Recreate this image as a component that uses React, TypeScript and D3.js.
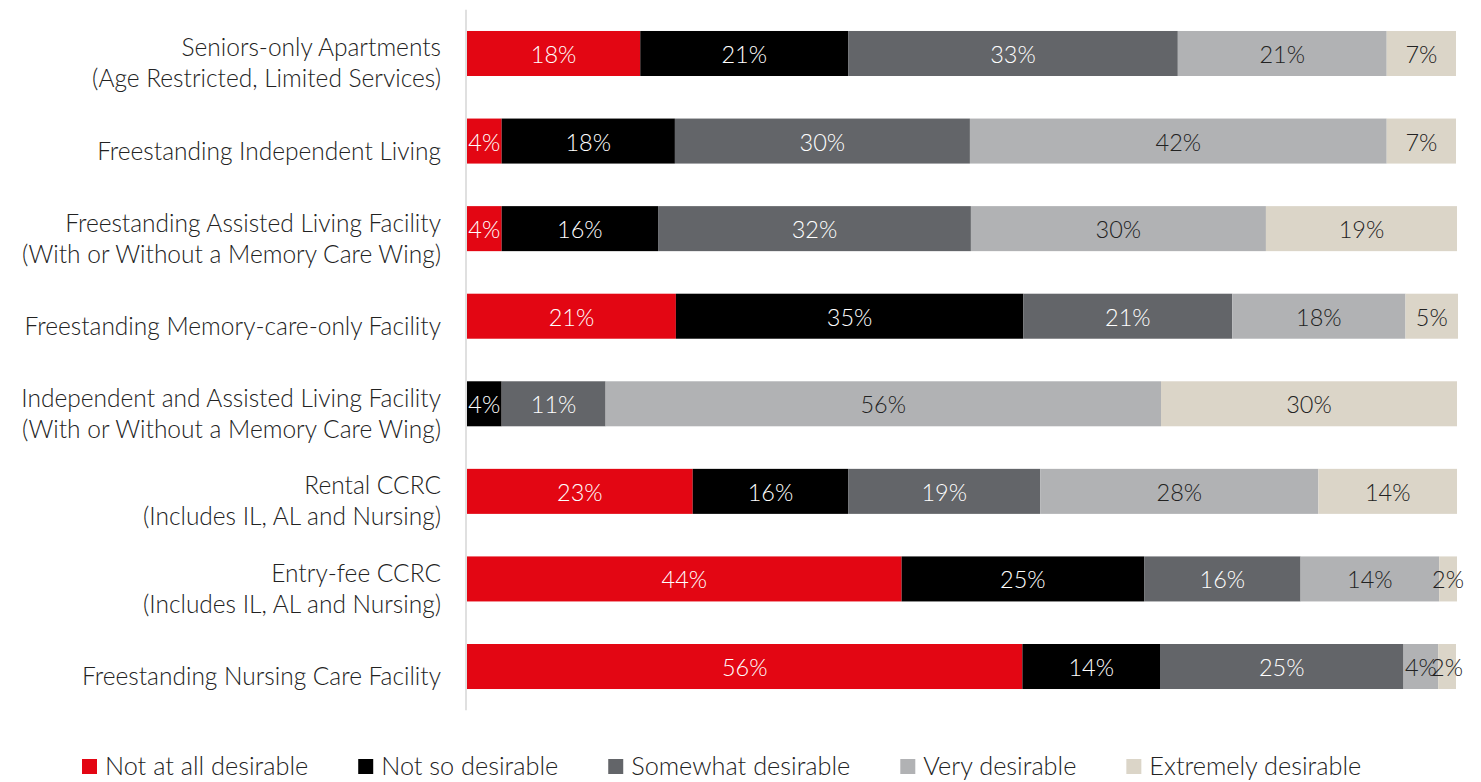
import React, { useEffect, useRef } from "react";
import * as d3 from "d3";

const categories: string[][] = [
  ["Seniors-only Apartments", "(Age Restricted, Limited Services)"],
  ["Freestanding Independent Living"],
  ["Freestanding Assisted Living Facility", "(With or Without a Memory Care Wing)"],
  ["Freestanding Memory-care-only Facility"],
  ["Independent and Assisted Living Facility", "(With or Without a Memory Care Wing)"],
  ["Rental CCRC", "(Includes IL, AL and Nursing)"],
  ["Entry-fee CCRC", "(Includes IL, AL and Nursing)"],
  ["Freestanding Nursing Care Facility"],
];

const seriesNames = [
  "Not at all desirable",
  "Not so desirable",
  "Somewhat desirable",
  "Very desirable",
  "Extremely desirable",
];

const notAtAll = [17.5, 3.5, 3.5, 21.1, 0, 22.8, 43.9, 56.1];
const notSo = [21.0, 17.5, 15.8, 35.1, 3.5, 15.7, 24.5, 13.9];
const somewhat = [33.3, 29.8, 31.6, 21.1, 10.5, 19.4, 15.8, 24.6];
const very = [21.1, 42.1, 29.8, 17.5, 56.1, 28.1, 14.0, 3.5];
const extremely = [7.0, 7.0, 19.3, 5.3, 29.9, 14.0, 1.8, 1.8];

const seriesValues = [notAtAll, notSo, somewhat, very, extremely];
const colors = ["#E30613", "#000000", "#636569", "#B1B2B4", "#DBD5C8"];
const labelColors = ["#ffffff", "#ffffff", "#ffffff", "#222222", "#222222"];

const W = 1481;
const H = 782;
const FONT = "Lato, 'Source Sans Pro', sans-serif";

export default function App() {
  const ref = useRef<SVGSVGElement | null>(null);

  useEffect(() => {
    const svg = d3.select(ref.current);
    svg.selectAll("*").remove();

    const x = d3.scaleLinear().domain([0, 100]).range([467, 1457]);
    const y = d3
      .scaleBand<number>()
      .domain(d3.range(categories.length))
      .range([9.7, 710.3])
      .paddingInner(0.486)
      .paddingOuter(0.243);

    // axis line
    svg
      .append("line")
      .attr("x1", 466)
      .attr("x2", 466)
      .attr("y1", y.range()[0])
      .attr("y2", y.range()[1])
      .attr("stroke", "#d6d6d6")
      .attr("stroke-width", 1.5);

    const rows = categories.map((_, i) => {
      let acc = 0;
      return seriesValues.map((vals, s) => {
        const v = vals[i];
        const seg = { s, x0: acc, x1: acc + v, v };
        acc += v;
        return seg;
      });
    });

    const g = svg.append("g");
    rows.forEach((segs, i) => {
      const row = g.append("g");
      segs.forEach((seg) => {
        if (seg.v <= 0) return;
        row
          .append("rect")
          .attr("x", x(seg.x0))
          .attr("y", y(i)!)
          .attr("width", x(seg.x1) - x(seg.x0))
          .attr("height", y.bandwidth())
          .attr("fill", colors[seg.s]);
      });
      segs.forEach((seg) => {
        if (seg.v <= 0) return;
        row
          .append("text")
          .attr("x", (x(seg.x0) + x(seg.x1)) / 2)
          .attr("y", y(i)! + y.bandwidth() / 2 + 9.5)
          .attr("text-anchor", "middle")
          .attr("font-family", FONT)
          .attr("font-weight", 300)
          .attr("font-size", 23.5)
          .attr("fill", labelColors[seg.s])
          .text(`${Math.round(seg.v)}%`);
      });

      // category label
      const lines = categories[i];
      const cy = y(i)! + y.bandwidth() / 2;
      const t = svg
        .append("text")
        .attr("text-anchor", "end")
        .attr("font-family", FONT)
        .attr("font-weight", 300)
        .attr("font-size", 24.5)
        .attr("fill", "#222222");
      lines.forEach((ln, k) => {
        t.append("tspan")
          .attr("x", 441)
          .attr("y", cy + 18.5 - (lines.length - 1) * 15.5 + k * 31)
          .text(ln);
      });
    });

    // legend
    const legend = svg.append("g");
    let lx = 82;
    seriesNames.forEach((name, s) => {
      legend
        .append("rect")
        .attr("x", lx)
        .attr("y", 759)
        .attr("width", 15)
        .attr("height", 15)
        .attr("fill", colors[s]);
      const txt = legend
        .append("text")
        .attr("x", lx + 23)
        .attr("y", 775)
        .attr("font-family", FONT)
        .attr("font-weight", 300)
        .attr("font-size", 25.3)
        .attr("fill", "#222222")
        .text(name);
      const w = (txt.node() as SVGTextElement).getComputedTextLength();
      lx = lx + 23 + w + 50;
    });
  }, []);

  return (
    <svg
      ref={ref}
      width={W}
      height={H}
      style={{ position: "absolute", left: 0, top: 0, background: "#ffffff" }}
    />
  );
}
